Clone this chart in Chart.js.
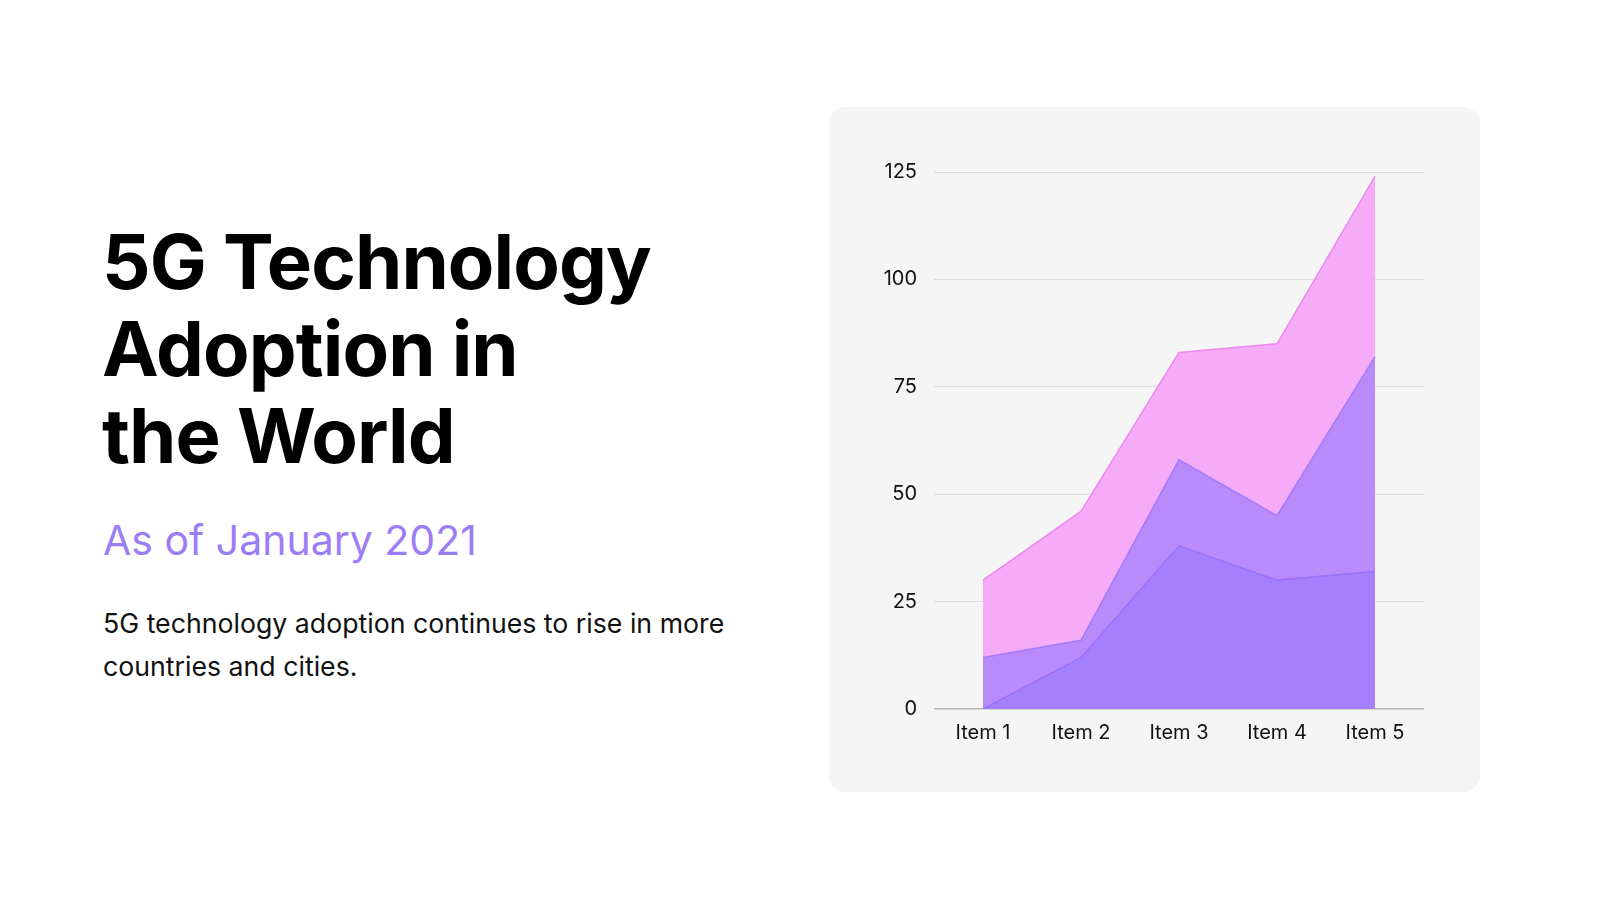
<!DOCTYPE html>
<html>
<head>
<meta charset="utf-8">
<script src="https://cdn.jsdelivr.net/npm/chart.js@4/dist/chart.umd.min.js"></script>
<style>
  html, body { margin: 0; padding: 0; background: #fff; }
  body { width: 1600px; height: 900px; position: relative; overflow: hidden; font-family: Inter, "Noto Sans", sans-serif; }
  .title { position: absolute; left: 102px; top: 218px; margin: 0; font-size: 76px; line-height: 87px; font-weight: 700; color: #000; letter-spacing: -0.9px; }
  .sub { position: absolute; left: 103px; top: 516px; margin: 0; font-size: 41px; line-height: 48px; font-weight: 400; color: #9b7ef5; }
  .body { position: absolute; left: 103px; top: 602px; margin: 0; font-size: 26.7px; line-height: 43px; color: #111; width: 740px; }
  .card { position: absolute; left: 829px; top: 107px; width: 651px; height: 685px; background: #f5f5f5; border-radius: 16px; }
  .card canvas { position: absolute; left: 0; top: 0; }
</style>
</head>
<body>
<h1 class="title">5G Technology<br>Adoption in<br>the World</h1>
<p class="sub">As of January 2021</p>
<p class="body">5G technology adoption continues to rise in more<br>countries and cities.</p>
<div class="card"><canvas id="area" width="651" height="685"></canvas></div>
<script>
// categories and series (stacked layers, bottom to top)
const items = ["Item 1", "Item 2", "Item 3", "Item 4", "Item 5"];
const seriesA = [0, 12, 38, 30, 32];
const seriesB = [12, 4, 20, 15, 50];
const seriesC = [18, 30, 25, 40, 42];
const yTicks = [0, 25, 50, 75, 100, 125];

const area = document.getElementById("area");

new Chart(area, {
  type: "line",
  data: {
    labels: items,
    datasets: [
      {
        label: "Series 1",
        data: seriesA,
        fill: "origin",
        backgroundColor: "rgba(160, 120, 253, 0.95)",
        borderColor: "rgba(150, 110, 250, 0.9)",
        borderWidth: 1.5,
        pointRadius: 0,
        tension: 0,
      },
      {
        label: "Series 2",
        data: seriesB,
        fill: "-1",
        backgroundColor: "rgba(181, 133, 250, 0.95)",
        borderColor: "rgba(160, 118, 248, 0.9)",
        borderWidth: 1.5,
        pointRadius: 0,
        tension: 0,
      },
      {
        label: "Series 3",
        data: seriesC,
        fill: "-1",
        backgroundColor: "rgba(246, 166, 248, 0.95)",
        borderColor: "rgba(236, 136, 240, 1)",
        borderWidth: 1.5,
        pointRadius: 0,
        tension: 0,
      },
    ],
  },
  options: {
    responsive: false,
    animation: false,
    layout: {
      padding: { left: 50, right: 56, top: 65, bottom: 35 },
    },
    plugins: {
      legend: { display: false },
      tooltip: { enabled: false },
    },
    scales: {
      x: {
        offset: true,
        grid: { display: false, drawTicks: false },
        border: { display: false },
        ticks: {
          padding: 12,
          color: "#111",
          font: { family: "Inter", size: 20 },
        },
      },
      y: {
        stacked: true,
        min: 0,
        max: 125,
        afterBuildTicks: (scale) => {
          scale.ticks = yTicks.map((v) => ({ value: v }));
        },
        afterFit: (scale) => {
          scale.width = 55;
        },
        grid: {
          color: (ctx) => (ctx.tick && ctx.tick.value === 0 ? "#b5b5b5" : "#dedede"),
          lineWidth: (ctx) => (ctx.tick && ctx.tick.value === 0 ? 1.5 : 1),
          drawTicks: false,
        },
        border: { display: false },
        ticks: {
          padding: 17,
          color: "#111",
          font: { family: "Inter", size: 20 },
        },
      },
    },
  },
});
</script>
</body>
</html>
